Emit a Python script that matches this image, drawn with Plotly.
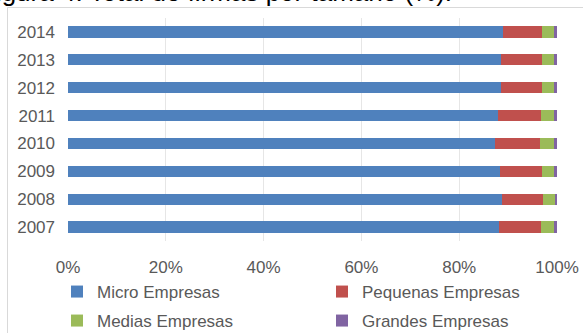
import plotly.graph_objects as go

years = ["2007", "2008", "2009", "2010", "2011", "2012", "2013", "2014"]
micro = [88.1, 88.8, 88.3, 87.3, 87.9, 88.6, 88.5, 89.0]
pequenas = [8.6, 8.3, 8.6, 9.2, 8.8, 8.3, 8.4, 8.0]
medias = [2.7, 2.5, 2.5, 2.9, 2.7, 2.5, 2.5, 2.45]
grandes = [0.6, 0.4, 0.6, 0.6, 0.6, 0.6, 0.6, 0.55]
series_names = ["Micro Empresas", "Pequenas Empresas", "Medias Empresas", "Grandes Empresas"]
colors = ["#4F81BD", "#C0504D", "#9BBB59", "#8064A2"]
xticks = [0, 20, 40, 60, 80, 100]
xticklabels = ["0%", "20%", "40%", "60%", "80%", "100%"]
title_text = "Figura 4: Total de firmas por tamaño (%)."

W, H = 583, 333
ml, mr, mt, mb = 68, 26, 18, 92
pw, ph = W - ml - mr, H - mt - mb

def px_x(p):
    return (p - ml) / pw

def px_y(p):
    return (H - mb - p) / ph

fig = go.Figure()
data = [micro, pequenas, medias, grandes]
legends = ["legend", "legend", "legend2", "legend2"]
for name, vals, col, lg in zip(series_names, data, colors, legends):
    fig.add_trace(go.Bar(
        y=years, x=vals, name=name, orientation="h",
        marker=dict(color=col, line=dict(width=0)),
        legend=lg,
    ))

font_color = "#595959"
fig.update_layout(
    width=W, height=H,
    margin=dict(l=ml, r=mr, t=mt, b=mb, autoexpand=False),
    barmode="stack",
    bargap=0.6,
    plot_bgcolor="white",
    paper_bgcolor="white",
    font=dict(family="Liberation Sans, Arial, sans-serif", size=17, color=font_color),
    xaxis=dict(
        range=[0, 100], tickvals=xticks, ticktext=xticklabels,
        showgrid=True, gridcolor="#E6E6E6", gridwidth=1,
        zeroline=False, showline=False, ticks="",
        ticklabelstandoff=14, fixedrange=True, automargin=False,
    ),
    yaxis=dict(
        categoryorder="array", categoryarray=years,
        showgrid=False, zeroline=False, showline=False, ticks="",
        ticklabelstandoff=12, fixedrange=True, automargin=False,
    ),
    legend=dict(
        orientation="h", x=px_x(57), y=px_y(274), xanchor="left", yanchor="top",
        entrywidth=220, entrywidthmode="pixels", itemwidth=30,
        font=dict(size=17, color=font_color), bgcolor="rgba(0,0,0,0)",
        traceorder="normal",
    ),
    legend2=dict(
        orientation="h", x=px_x(57), y=px_y(303), xanchor="left", yanchor="top",
        entrywidth=220, entrywidthmode="pixels", itemwidth=30,
        font=dict(size=17, color=font_color), bgcolor="rgba(0,0,0,0)",
        traceorder="normal",
    ),
    showlegend=True,
)

fig.add_shape(type="rect", xref="paper", yref="paper",
              x0=px_x(7.5), x1=px_x(600), y0=px_y(360), y1=px_y(7.5),
              line=dict(color="#D9D9D9", width=1), fillcolor="rgba(0,0,0,0)", layer="below")

fig.add_annotation(text=title_text, xref="paper", yref="paper",
                   x=px_x(454), y=px_y(9), xanchor="right", yanchor="bottom",
                   showarrow=False, font=dict(size=26, color="#000000"))

fig.write_html("out.html")
